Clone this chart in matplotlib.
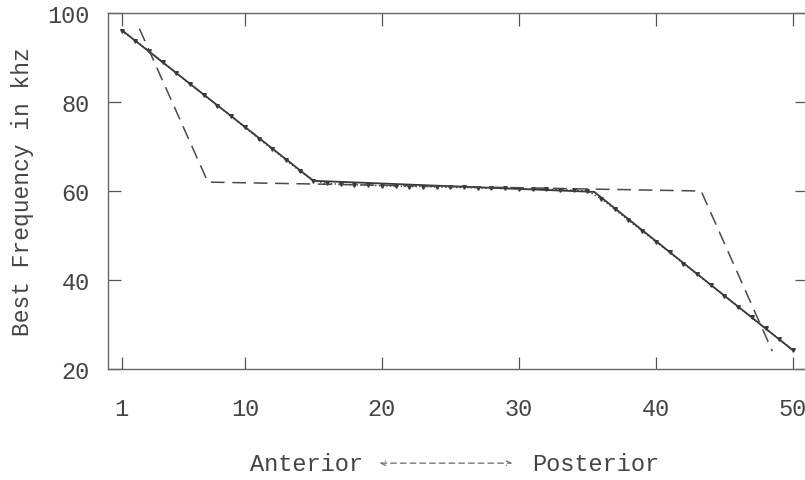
''' Best frequency along the anterior-posterior axis '''

import matplotlib
matplotlib.use('Agg')
import matplotlib.pyplot as plt

# DATA
#*************
pos = list(range(1, 51))
bf_points = [96.0, 93.8, 91.5, 89.0, 86.5, 84.0, 81.6, 79.2, 76.8, 74.3,
             71.8, 69.4, 67.0, 64.5, 62.3, 61.7, 61.5, 61.4, 61.3, 61.2,
             61.1, 61.0, 61.0, 60.9, 60.8, 60.8, 60.7, 60.6, 60.6, 60.5,
             60.4, 60.4, 60.3, 60.2, 60.0, 58.3, 55.9, 53.4, 51.0, 48.6,
             46.2, 43.7, 41.3, 38.9, 36.4, 34.0, 31.6, 29.1, 26.7, 24.3]

fit_x = [1, 15, 35.5, 50]
fit_y = [96.2, 62.3, 59.8, 24.2]

step_x = [2.3, 7.3, 43.3, 48.5]
step_y = [96.5, 62.0, 60.0, 24.0]

xticks = [1, 10, 20, 30, 40, 50]
yticks = [20, 40, 60, 80, 100]

# PLOT
#*************
plt.rcParams['font.family'] = ['Liberation Mono', 'DejaVu Sans Mono']
ink = '#3a3a3a'
txt = '#444444'

fig = plt.figure(figsize=(8.05, 4.81), dpi=100)
ax = fig.add_axes([0.134, 0.2308, 0.868, 0.740])

ax.plot(fit_x, fit_y, color=ink, lw=1.3)
ax.plot(pos, bf_points, color=ink, lw=1.0, ls=':', marker='v', ms=2.6)
ax.plot(step_x, step_y, color='#4a4a4a', lw=1.1, dashes=(9, 5))

ax.set_xlim(0, 51)
ax.set_ylim(20, 100)
ax.set_xticks(xticks)
ax.set_yticks(yticks)
ax.tick_params(direction='in', length=9, width=0.9, color='#555555',
               top=True, right=True, labelsize=17, labelcolor=txt)
ax.tick_params(axis='x', pad=20)
ax.tick_params(axis='y', pad=13)
for s in ax.spines.values():
    s.set_color('#666666')
    s.set_linewidth(1.0)

ax.set_ylabel('Best Frequency in khz', fontsize=16.5, color=txt, labelpad=10)

fig.text(0.381, 0.035, 'Anterior', fontsize=17, color=txt, ha='center', va='center')
fig.text(0.740, 0.035, 'Posterior', fontsize=17, color=txt, ha='center', va='center')
fig.patches.append(matplotlib.patches.FancyArrowPatch(
    (0.468, 0.035), (0.640, 0.035), transform=fig.transFigure,
    arrowstyle='<->', mutation_scale=8, linestyle=(0, (4, 3)),
    color='#777777', lw=1.0))

plt.savefig('out.png', dpi=100, facecolor='white')
